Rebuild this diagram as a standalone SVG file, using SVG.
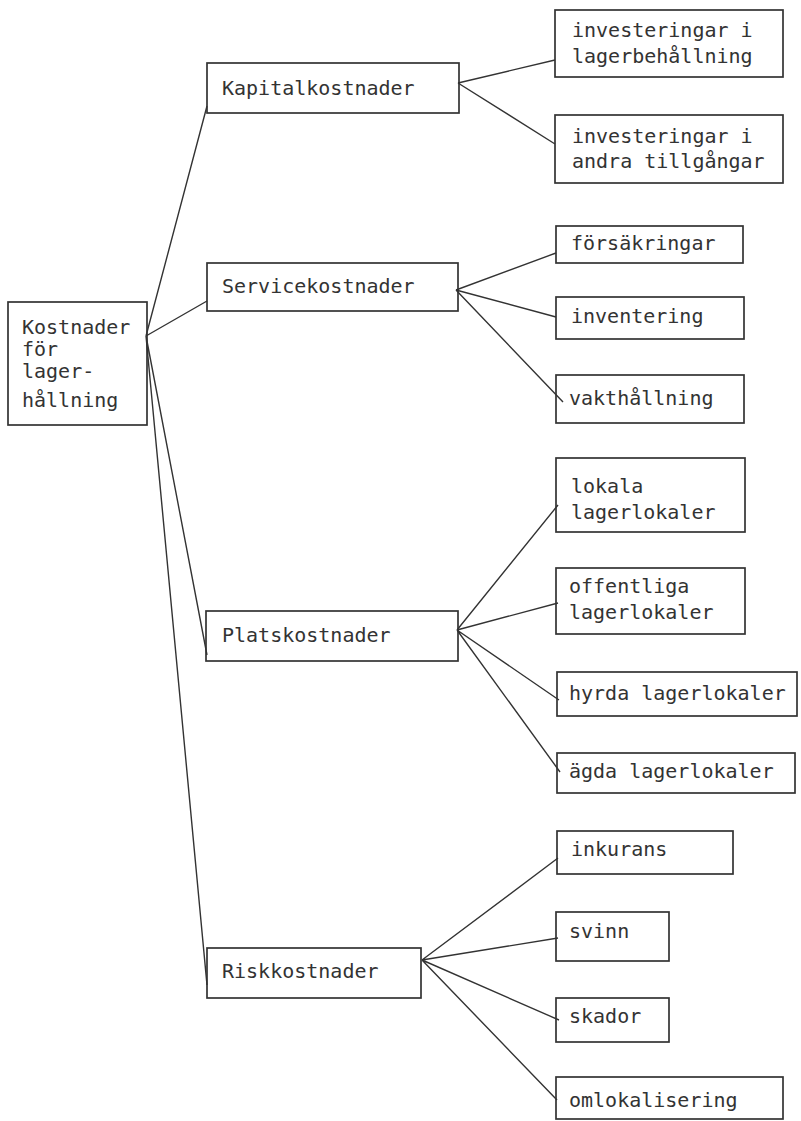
<svg xmlns="http://www.w3.org/2000/svg" width="801" height="1121" viewBox="0 0 801 1121">
<style>
  .box { fill: none; stroke: #333333; stroke-width: 1.7; }
  .lbl { font-family: "DejaVu Sans Mono", "Liberation Mono", monospace; font-size: 20px; fill: #333333; }
  .con { stroke: #333333; stroke-width: 1.4; fill: none; }
</style>
<rect width="801" height="1121" fill="#ffffff"/>
<g id="connectors">
  <path class="con" d="M146 336 L207 106 M146 336 L207 301 M146 336 L207 655 M146 336 L207 985"/>
  <path class="con" d="M458 83 L555 60 M458 83 L555 144"/>
  <path class="con" d="M456 290 L556 253 M456 290 L556 317 M456 290 L563 402"/>
  <path class="con" d="M457 630 L558 505 M457 630 L558 603 M457 630 L559 700 M457 630 L560 772"/>
  <path class="con" d="M422 960 L558 858 M422 960 L558 938 M422 960 L559 1020 M422 960 L557 1100"/>
</g>
<g id="root">
  <rect class="box" x="8" y="302" width="139" height="123"/>
  <text class="lbl" x="22" y="334">Kostnader</text>
  <text class="lbl" x="22" y="356">för</text>
  <text class="lbl" x="22" y="378">lager-</text>
  <text class="lbl" x="22" y="407">hållning</text>
</g>
<g id="kapital">
  <rect class="box" x="207" y="63" width="252" height="50"/>
  <text class="lbl" x="222" y="95">Kapitalkostnader</text>
</g>
<g id="service">
  <rect class="box" x="207" y="263" width="251" height="48"/>
  <text class="lbl" x="222" y="293">Servicekostnader</text>
</g>
<g id="plats">
  <rect class="box" x="206" y="611" width="252" height="50"/>
  <text class="lbl" x="222" y="642">Platskostnader</text>
</g>
<g id="risk">
  <rect class="box" x="207" y="948" width="214" height="50"/>
  <text class="lbl" x="222" y="978">Riskkostnader</text>
</g>
<g id="inv-lager">
  <rect class="box" x="555" y="10" width="228" height="67"/>
  <text class="lbl" x="572" y="37">investeringar i</text>
  <text class="lbl" x="572" y="63">lagerbehållning</text>
</g>
<g id="inv-andra">
  <rect class="box" x="555" y="115" width="228" height="68"/>
  <text class="lbl" x="572" y="143">investeringar i</text>
  <text class="lbl" x="572" y="168">andra tillgångar</text>
</g>
<g id="forsakringar">
  <rect class="box" x="556" y="226" width="187" height="37"/>
  <text class="lbl" x="571" y="250">försäkringar</text>
</g>
<g id="inventering">
  <rect class="box" x="556" y="297" width="188" height="42"/>
  <text class="lbl" x="571" y="323">inventering</text>
</g>
<g id="vakthallning">
  <rect class="box" x="556" y="375" width="188" height="48"/>
  <text class="lbl" x="569" y="405">vakthållning</text>
</g>
<g id="lokala">
  <rect class="box" x="556" y="458" width="189" height="74"/>
  <text class="lbl" x="571" y="493">lokala</text>
  <text class="lbl" x="571" y="519">lagerlokaler</text>
</g>
<g id="offentliga">
  <rect class="box" x="556" y="568" width="189" height="66"/>
  <text class="lbl" x="569" y="593">offentliga</text>
  <text class="lbl" x="569" y="619">lagerlokaler</text>
</g>
<g id="hyrda">
  <rect class="box" x="557" y="672" width="240" height="44"/>
  <text class="lbl" x="569" y="700">hyrda lagerlokaler</text>
</g>
<g id="agda">
  <rect class="box" x="557" y="753" width="238" height="40"/>
  <text class="lbl" x="569" y="778">ägda lagerlokaler</text>
</g>
<g id="inkurans">
  <rect class="box" x="557" y="831" width="176" height="43"/>
  <text class="lbl" x="571" y="856">inkurans</text>
</g>
<g id="svinn">
  <rect class="box" x="556" y="912" width="113" height="49"/>
  <text class="lbl" x="569" y="938">svinn</text>
</g>
<g id="skador">
  <rect class="box" x="556" y="998" width="113" height="44"/>
  <text class="lbl" x="569" y="1023">skador</text>
</g>
<g id="omlokalisering">
  <rect class="box" x="556" y="1077" width="227" height="42"/>
  <text class="lbl" x="569" y="1107">omlokalisering</text>
</g>
</svg>
